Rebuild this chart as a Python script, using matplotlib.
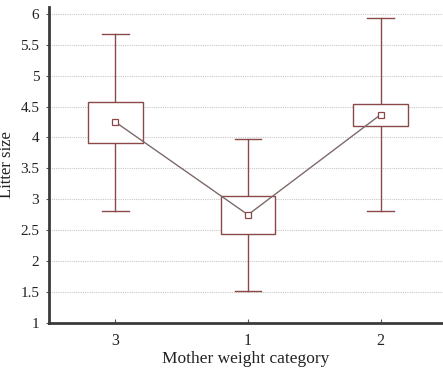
import matplotlib
matplotlib.use("Agg")
import matplotlib.pyplot as plt
from matplotlib.patches import Rectangle

categories = ["3", "1", "2"]
means = [4.25, 2.75, 4.37]
box_low = [3.91, 2.44, 4.19]
box_high = [4.57, 3.05, 4.54]
whisk_low = [2.81, 1.52, 2.81]
whisk_high = [5.68, 3.98, 5.93]
yticks = [1, 1.5, 2, 2.5, 3, 3.5, 4, 4.5, 5, 5.5, 6]
ytick_labels = ["1", "1.5", "2", "2.5", "3", "3.5", "4", "4.5", "5", "5.5", "6"]

plt.rcParams['font.family'] = ['Liberation Serif', 'DejaVu Serif']

fig = plt.figure(figsize=(4.43, 3.68), dpi=100)
ax = fig.add_axes([49/443, 45/368, 1 - 49/443, (323-7)/368])

col = "#8a4848"
linecol = "#7d6a6a"
bw = 0.41
cw = 0.20
x = list(range(len(categories)))

for i in x:
    ax.plot([i, i], [whisk_low[i], box_low[i]], color=col, lw=1.0, zorder=3)
    ax.plot([i, i], [box_high[i], whisk_high[i]], color=col, lw=1.0, zorder=3)
    ax.plot([i - cw/2, i + cw/2], [whisk_low[i]] * 2, color=col, lw=1.0, zorder=3)
    ax.plot([i - cw/2, i + cw/2], [whisk_high[i]] * 2, color=col, lw=1.0, zorder=3)
    ax.add_patch(Rectangle((i - bw/2, box_low[i]), bw, box_high[i] - box_low[i],
                           facecolor="white", edgecolor=col, lw=1.0, zorder=3))

ax.plot(x, means, color=linecol, lw=1.0, zorder=4)
ax.plot(x, means, linestyle="none", marker="s", markersize=4.5,
        markerfacecolor="white", markeredgecolor=col, markeredgewidth=0.9, zorder=5)

ax.set_xlim(-0.5, 2.47)
ax.set_ylim(1, 6.11)
ax.set_yticks(yticks)
ax.set_yticklabels(ytick_labels)
ax.set_xticks(x)
ax.set_xticklabels(categories)

ax.grid(axis="y", color="#c8c8c8", linestyle=(0, (1, 1)), lw=0.8)
ax.set_axisbelow(True)

for s in ["top", "right"]:
    ax.spines[s].set_visible(False)
for s in ["left", "bottom"]:
    ax.spines[s].set_linewidth(2.0)
    ax.spines[s].set_color("#3a3a3a")

ax.tick_params(axis="y", direction="out", length=2, width=0.8, color="#555555",
               labelsize=11, pad=5, labelcolor="#222222")
ax.tick_params(axis="x", direction="in", length=3, width=0.8, color="#555555",
               labelsize=11.5, pad=7, labelcolor="#222222")

ax.set_xlabel("Mother weight category", fontsize=12.5, color="#222222")
ax.set_ylabel("Litter size", fontsize=12, color="#222222")
ax.xaxis.set_label_coords(0.5, -0.088)
ax.yaxis.set_label_coords(-0.086, 0.5)

fig.savefig("out.png", dpi=100)
